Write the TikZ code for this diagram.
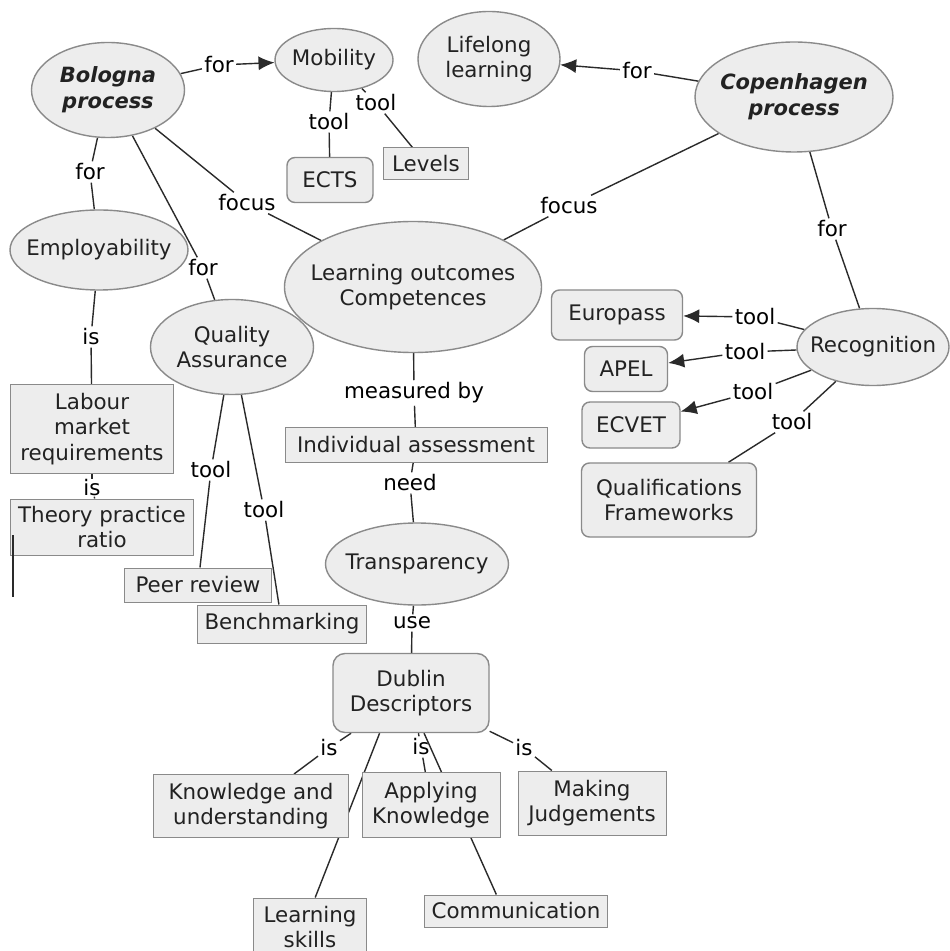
\documentclass[tikz,border=0pt]{standalone}
\usepackage{fontspec}
\setmainfont{DejaVu Sans}
\usetikzlibrary{shapes.geometric,arrows.meta,backgrounds}
\definecolor{ConceptClr}{HTML}{EDEDED}
\definecolor{BorderClr}{HTML}{8A8A8A}
\definecolor{LinkClr}{HTML}{2A2A2A}
\definecolor{TextClr}{HTML}{222222}
\tikzset{
  concept/.style={ellipse,draw=BorderClr,fill=ConceptClr,line width=0.7pt,inner xsep=-7pt,inner ysep=0pt,align=center,text=TextClr},
  toolbox/.style={rectangle,rounded corners=4pt,draw=BorderClr,fill=ConceptClr,line width=0.7pt,inner sep=0pt,align=center,text=TextClr},
  plainbox/.style={rectangle,draw=BorderClr,fill=ConceptClr,line width=0.5pt,inner sep=0pt,align=center,text=TextClr},
  linkword/.style={inner sep=1pt,text=black},
  link/.style={draw=LinkClr,line width=0.7pt},
  linkarrow/.style={link,-{Latex[length=8pt,width=7pt]}},
  process/.style={font=\fontsize{10.5}{12.8}\selectfont\bfseries\itshape}
}

\begin{document}
\begin{tikzpicture}[x=0.5pt,y=-0.5pt,font=\fontsize{10.7}{12.8}\selectfont]
\useasboundingbox (0,0) rectangle (949,951);

\node[concept,process,minimum width=76.5pt,minimum height=47.5pt] (bologna) at (108,90) {Bologna\\process};
\node[concept,minimum width=59pt,minimum height=31.5pt] (mobility) at (334,60) {Mobility};
\node[concept,minimum width=71pt,minimum height=47.5pt] (lifelong) at (489,59) {Lifelong\\learning};
\node[concept,process,minimum width=99pt,minimum height=55pt] (copenhagen) at (794,97) {Copenhagen\\process};
\node[concept,minimum width=89pt,minimum height=40pt] (employ) at (99,250) {Employability};
\node[concept,minimum width=128.5pt,minimum height=65.5pt] (outcomes) at (413,287) {Learning outcomes\\Competences};
\node[concept,minimum width=81.5pt,minimum height=47.5pt] (quality) at (232,347) {Quality\\Assurance};
\node[concept,minimum width=91.5pt,minimum height=41pt] (transp) at (417,564) {Transparency};
\node[concept,minimum width=76pt,minimum height=38.5pt] (recog) at (873,347) {Recognition};

\node[toolbox,minimum width=43pt,minimum height=22.5pt] (ects) at (330,180) {ECTS};
\node[plainbox,minimum width=42.5pt,minimum height=16pt] (levels) at (426,164) {Levels};
\node[toolbox,minimum width=65.5pt,minimum height=25pt] (europass) at (617,315) {Europass};
\node[toolbox,minimum width=41.5pt,minimum height=22.5pt] (apel) at (626,369) {APEL};
\node[toolbox,minimum width=49pt,minimum height=23pt] (ecvet) at (631,425) {ECVET};
\node[toolbox,minimum width=87.5pt,minimum height=37pt] (qualfw) at (669,500) {Qualifications\\Frameworks};
\node[toolbox,rounded corners=6pt,minimum width=78pt,minimum height=39.5pt] (dublin) at (411,693) {Dublin\\Descriptors};

\node[plainbox,minimum width=81.5pt,minimum height=44pt] (labour) at (92,429) {Labour\\market\\requirements};
\node[plainbox,minimum width=91.5pt,minimum height=28pt] (theory) at (102,527) {Theory practice\\ratio};
\node[plainbox,minimum width=73.5pt,minimum height=17pt] (peer) at (198,585) {Peer review};
\node[plainbox,minimum width=84.5pt,minimum height=19pt] (bench) at (282,624) {Benchmarking};
\node[plainbox,minimum width=131pt,minimum height=17.5pt] (indiv) at (416,445) {Individual assessment};
\node[plainbox,minimum width=97.5pt,minimum height=31.5pt] (knowund) at (251,806) {Knowledge and\\understanding};
\node[plainbox,minimum width=69pt,minimum height=32.5pt] (applyk) at (431,805) {Applying\\Knowledge};
\node[plainbox,minimum width=74pt,minimum height=32pt] (makej) at (592,803) {Making\\Judgements};
\node[plainbox,minimum width=56.5pt,minimum height=29pt] (learnsk) at (310,927) {Learning\\skills};
\node[plainbox,minimum width=91.5pt,minimum height=16pt] (commun) at (516,911) {Communication};

\node[linkword] (forMob) at (219,65) {for};
\node[linkword] (toolEcts) at (329,122) {tool};
\node[linkword] (toolLev) at (376,103) {tool};
\node[linkword] (forEmp) at (90,172) {for};
\node[linkword] (focusB) at (247,203) {focus};
\node[linkword] (forQa) at (203,268) {for};
\node[linkword] (forLl) at (637,71) {for};
\node[linkword] (focusC) at (569,206) {focus};
\node[linkword] (forRec) at (832,229) {for};
\node[linkword] (isLab) at (91,337) {is};
\node[linkword,inner sep=0pt] (isTh) at (92,488) {is};
\node[linkword] (toolPeer) at (211,470) {tool};
\node[linkword] (toolBen) at (264,510) {tool};
\node[linkword] (measBy) at (414,393) {measured by};
\node[linkword] (needT) at (410,483) {need};
\node[linkword] (useD) at (412,623) {use};
\node[linkword] (toolEur) at (755,317) {tool};
\node[linkword] (toolApel) at (745,352) {tool};
\node[linkword] (toolEcv) at (753,392) {tool};
\node[linkword] (toolQf) at (792,422) {tool};
\node[linkword] (isKu) at (329,748) {is};
\node[linkword] (isAk) at (421,747) {is};
\node[linkword] (isMj) at (524,748) {is};

\coordinate (strayTop) at (13,535);
\coordinate (strayEnd) at (13,597);

\begin{pgfonlayer}{background}
\fill[white] (0,0) rectangle (949,951);
\draw[link] (bologna) -- (forMob);
\draw[linkarrow] (forMob) -- (mobility);
\draw[link] (mobility) -- (toolEcts);
\draw[link] (toolEcts) -- (ects);
\draw[link] (mobility) -- (toolLev);
\draw[link] (toolLev) -- (levels);
\draw[link] (employ) -- (forEmp);
\draw[link] (forEmp) -- (bologna);
\draw[link] (bologna) -- (focusB);
\draw[link] (focusB) -- (outcomes);
\draw[link] (bologna) -- (forQa);
\draw[link] (forQa) -- (quality);
\draw[link] (copenhagen) -- (forLl);
\draw[linkarrow] (forLl) -- (lifelong);
\draw[link] (copenhagen) -- (focusC);
\draw[link] (focusC) -- (outcomes);
\draw[link] (copenhagen) -- (forRec);
\draw[link] (forRec) -- (recog);
\draw[link] (employ) -- (isLab);
\draw[link] (isLab) -- (labour);
\draw[link] (labour) -- (isTh);
\draw[link] (isTh) -- (theory);
\draw[link] (quality) -- (toolPeer);
\draw[link] (toolPeer) -- (peer);
\draw[link] (quality) -- (toolBen);
\draw[link] (toolBen) -- (bench);
\draw[link] (outcomes) -- (measBy);
\draw[link] (measBy) -- (indiv);
\draw[link] (indiv) -- (needT);
\draw[link] (needT) -- (transp);
\draw[link] (transp) -- (useD);
\draw[link] (useD) -- (dublin);
\draw[link] (recog) -- (toolEur);
\draw[linkarrow] (toolEur) -- (europass);
\draw[link] (recog) -- (toolApel);
\draw[linkarrow] (toolApel) -- (apel);
\draw[link] (recog) -- (toolEcv);
\draw[linkarrow] (toolEcv) -- (ecvet);
\draw[link] (recog) -- (toolQf);
\draw[link] (toolQf) -- (qualfw);
\draw[link] (dublin) -- (isKu);
\draw[link] (isKu) -- (knowund);
\draw[link] (dublin) -- (isAk);
\draw[link] (isAk) -- (applyk);
\draw[link] (dublin) -- (isMj);
\draw[link] (isMj) -- (makej);
\draw[link] (dublin.232) -- (learnsk.80);
\draw[link] (dublin.288) -- (commun.140);
\end{pgfonlayer}

\draw[link] (strayTop) -- (strayEnd);

\end{tikzpicture}
\end{document}
